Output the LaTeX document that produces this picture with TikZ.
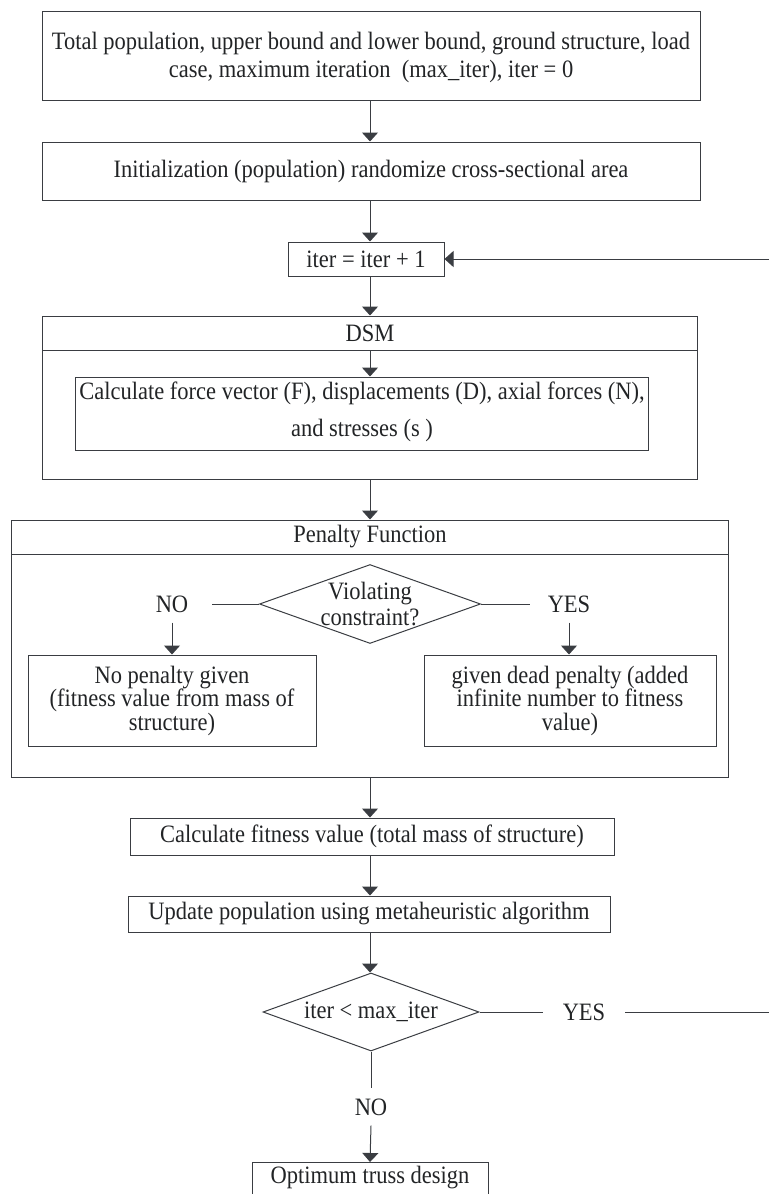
\documentclass[tikz,border=0pt]{standalone}
\usepackage{fontspec}
\setmainfont{Liberation Serif}[FakeStretch=0.9]
\usetikzlibrary{arrows.meta,shapes.geometric}
\definecolor{linecol}{HTML}{3A3D42}
\definecolor{txtcol}{HTML}{222426}
\begin{document}
\begin{tikzpicture}[x=1pt,y=-1pt,
  ln/.style={draw=linecol, line width=1pt},
  arr/.style={draw=linecol, line width=1pt, -{Triangle[width=16pt,length=9pt]}},
  box/.style={draw=linecol, line width=1pt, rectangle, inner sep=0pt, text=txtcol, align=center, font=\fontsize{25}{28}\selectfont},
  dia/.style={draw=linecol, line width=1pt, diamond, aspect=2.8, inner sep=0pt, text=txtcol, align=center, font=\fontsize{25}{26}\selectfont},
  txt/.style={text=txtcol, inner sep=0pt, align=center, font=\fontsize{25}{28}\selectfont},
]
\useasboundingbox (0,0) rectangle (769,1194);
\clip (0,0) rectangle (769,1194);

% top boxes
\node[box, minimum width=658pt, minimum height=89pt] (b1) at (371,56) {};
\node[txt] (b1t) at (371,57) {Total population, upper bound and lower bound, ground structure, load\\case, maximum iteration\ \ (max\_iter), iter = 0};
\node[box, minimum width=658pt, minimum height=58pt] (b2) at (371,171) {Initialization (population) randomize cross-sectional area};
\node[box, minimum width=156pt, minimum height=34pt] (it) at (366,259) {iter = iter + 1};
\coordinate (fbr) at (769,259);

% DSM container
\node[box, minimum width=655pt, minimum height=163pt] (dsm) at (370,397.5) {};
\coordinate (dsmhl) at (42.5,350);
\coordinate (dsmhr) at (697.5,350);
\coordinate (dsmhc) at (370,350);
\node[txt] (dsmt) at (370,333) {DSM};
\node[box, minimum width=573pt, minimum height=73pt] (inner) at (362,413.5) {};
\node[txt, font=\fontsize{25}{37}\selectfont] (innert) at (362,412) {Calculate force vector (F), displacements (D), axial forces (N),\\and stresses (s )};

% Penalty container
\node[box, minimum width=717pt, minimum height=257pt] (pen) at (370,648.5) {};
\coordinate (penhl) at (11.5,554);
\coordinate (penhr) at (728.5,554);
\node[txt] (pent) at (370,537) {Penalty Function};
\node[dia, minimum width=218pt, minimum height=78pt] (d1) at (370,604) {Violating\\constraint?};
\node[txt] (no1) at (172,604) {NO};
\node[txt] (yes1) at (569,604) {YES};
\node[box, minimum width=288pt, minimum height=91pt, font=\fontsize{25}{23.5}\selectfont] (lb) at (172,700.5) {No penalty given\\(fitness value from mass of\\structure)};
\node[box, minimum width=292pt, minimum height=91pt, font=\fontsize{25}{23.5}\selectfont] (rb) at (570,700.5) {given dead penalty (added\\infinite number to fitness\\value)};

% lower boxes
\node[box, minimum width=484pt, minimum height=37pt] (fit) at (372,836.5) {Calculate fitness value (total mass of structure)};
\node[box, minimum width=482pt, minimum height=36pt] (upd) at (369,914) {Update population using metaheuristic algorithm};
\node[dia, minimum width=216pt, minimum height=78pt] (d2) at (371,1012) {iter < max\_iter};
\node[txt] (yes2) at (584,1012) {YES};
\coordinate (r2) at (769,1012);
\node[txt] (no2) at (371,1107) {NO};
\node[box, anchor=north, minimum width=236pt, minimum height=60pt] (opt) at (370,1162) {};
\node[txt] (optt) at (370,1178) {Optimum truss design};

% connectors
\draw[arr] (b1.south -| 370,0) -- (b2.north -| 370,0);
\draw[arr] (b2.south -| 370,0) -- (it.north -| 370,0);
\draw[arr] (fbr) -- (it.east);
\draw[arr] (it.south -| 370,0) -- (dsm.north -| 370,0);
\draw[ln] (dsmhl) -- (dsmhr);
\draw[arr] (dsmhc) -- (inner.north -| 370,0);
\draw[arr] (dsm.south -| 370,0) -- (pen.north -| 370,0);
\draw[ln] (penhl) -- (penhr);
\draw[ln] (d1.west) -- ([xshift=24pt]no1.east);
\draw[ln] (d1.east) -- ([xshift=-18pt]yes1.west);
\draw[arr] ([yshift=-10pt]no1.south) -- (lb.north);
\draw[arr] ([yshift=-10pt]yes1.south) -- (rb.north -| yes1.south);
\draw[arr] (pen.south -| 370,0) -- (fit.north -| 370,0);
\draw[arr] (fit.south -| 370,0) -- (upd.north -| 370,0);
\draw[arr] (upd.south -| 370,0) -- (d2.north -| 370,0);
\draw[ln] (d2.east) -- ([xshift=-20pt]yes2.west);
\draw[ln] ([xshift=20pt]yes2.east) -- (r2);
\draw[ln] (d2.south) -- ([yshift=10pt]no2.north);
\draw[arr] ([yshift=-10pt]no2.south) -- (opt.north);
\end{tikzpicture}
\end{document}
